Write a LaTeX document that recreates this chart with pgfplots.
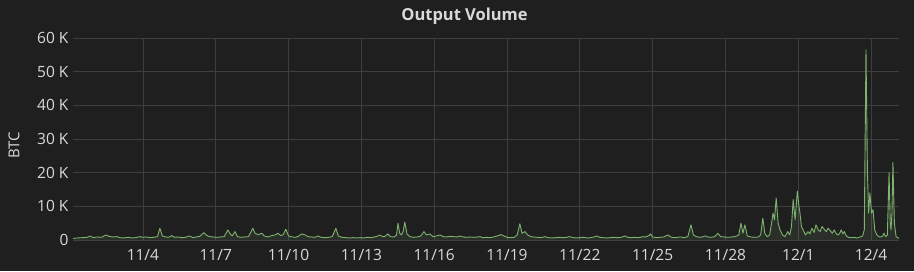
\documentclass[border=0pt]{standalone}
\usepackage{pgfplots}
\pgfplotsset{compat=1.18}
\usepackage{pgfplotstable}
\usepackage{fontspec}
\setmainfont{Open Sans}
\definecolor{bgcol}{HTML}{1F1F20}
\definecolor{gridcol}{HTML}{3E3E40}
\definecolor{txtcol}{HTML}{D8D9DA}
\definecolor{linecol}{HTML}{7EB26D}
\pgfplotstableread{
d v
0.12 0.5
0.3 0.6
0.5 0.7
0.7 0.8
0.82 1.2
0.95 0.7
1.1 0.9
1.3 0.8
1.47 1.5
1.6 1.1
1.75 0.9
1.93 1.0
2.05 0.7
2.2 0.6
2.4 0.8
2.55 0.6
2.7 0.7
2.88 1.0
3.0 0.8
3.15 0.9
3.3 0.7
3.45 0.8
3.6 1.0
3.70 3.5
3.8 1.2
3.95 0.9
4.05 0.8
4.19 1.3
4.3 0.8
4.45 0.9
4.6 0.7
4.75 0.8
4.93 1.2
5.05 0.7
5.2 0.9
5.35 1.1
5.51 2.2
5.62 1.4
5.75 1.0
5.9 0.9
6.05 0.8
6.2 0.9
6.35 1.0
6.50 3.0
6.6 1.8
6.68 1.2
6.79 2.5
6.9 1.0
7.05 0.8
7.2 0.9
7.35 1.0
7.53 3.5
7.62 2.0
7.75 1.6
7.90 2.0
8.0 1.2
8.15 0.9
8.3 1.3
8.45 1.5
8.56 2.0
8.68 1.3
8.78 1.6
8.89 3.2
9.0 1.2
9.15 0.9
9.3 0.8
9.42 1.2
9.55 1.8
9.68 1.5
9.8 1.0
9.95 0.9
10.1 0.8
10.21 1.2
10.35 0.8
10.5 0.7
10.65 0.8
10.8 1.0
10.95 3.5
11.05 1.2
11.2 0.8
11.35 0.7
11.5 0.6
11.65 0.7
11.8 0.6
11.95 0.7
12.1 0.6
12.25 0.8
12.4 0.7
12.55 0.9
12.68 1.2
12.76 1.5
12.88 1.0
12.98 1.1
13.09 1.8
13.2 1.0
13.35 0.9
13.45 1.5
13.51 5.0
13.58 2.0
13.65 1.5
13.72 2.5
13.79 5.3
13.88 1.8
14.0 1.0
14.15 0.8
14.3 0.9
14.45 1.2
14.58 2.5
14.68 1.5
14.82 1.8
14.95 1.0
15.1 1.2
15.24 1.5
15.38 1.0
15.5 0.9
15.65 1.1
15.8 1.0
15.95 0.9
16.06 1.2
16.2 0.9
16.35 0.8
16.5 0.9
16.65 0.8
16.78 0.9
16.89 1.0
17.0 0.7
17.15 0.8
17.3 0.7
17.45 0.9
17.6 1.2
17.75 1.6
17.88 1.2
18.0 0.8
18.15 0.7
18.3 0.8
18.42 1.5
18.53 4.8
18.62 2.0
18.74 2.5
18.85 1.5
18.98 1.0
19.1 0.9
19.25 0.8
19.4 0.7
19.56 1.0
19.7 0.7
19.85 0.6
20.0 0.7
20.15 0.8
20.3 0.7
20.45 0.8
20.59 1.0
20.72 0.7
20.85 0.6
21.0 0.7
21.15 0.8
21.3 0.6
21.45 0.7
21.58 0.9
21.70 1.2
21.82 0.8
21.95 0.7
22.1 0.6
22.25 0.7
22.4 0.8
22.55 0.7
22.7 0.8
22.86 1.2
22.98 0.8
23.1 0.7
23.25 0.8
23.4 0.7
23.5 0.8
23.60 1.0
23.7 0.9
23.85 1.3
23.92 1.8
24.0 0.9
24.15 0.7
24.3 0.8
24.45 0.9
24.63 1.5
24.75 0.9
24.88 0.7
25.0 0.8
25.15 0.9
25.3 0.7
25.45 1.0
25.58 4.5
25.68 1.5
25.8 1.0
25.95 0.8
26.05 0.9
26.15 1.2
26.28 0.9
26.4 0.8
26.55 1.0
26.69 2.0
26.8 1.0
26.95 0.9
27.1 0.8
27.25 0.9
27.4 1.0
27.55 1.5
27.64 5.0
27.72 2.0
27.80 4.5
27.9 1.2
28.05 0.9
28.2 0.8
28.35 0.9
28.45 1.5
28.54 6.5
28.62 2.0
28.72 1.0
28.82 1.5
28.9 5.0
28.96 8.0
29.02 6.0
29.09 12.5
29.17 5.0
29.25 3.0
29.35 1.5
29.45 1.0
29.57 2.5
29.65 1.5
29.72 4.0
29.79 12.0
29.87 6.0
29.96 14.5
30.03 10.0
30.07 8.0
30.13 4.0
30.2 3.0
30.3 1.5
30.4 2.5
30.48 1.8
30.56 3.5
30.65 2.2
30.73 4.5
30.82 3.0
30.9 2.5
30.98 4.0
31.07 3.2
31.15 2.5
31.23 3.5
31.32 2.8
31.4 2.0
31.48 3.0
31.57 1.8
31.65 1.5
31.72 2.2
31.77 3.0
31.84 1.8
31.9 2.5
31.98 1.2
32.08 0.8
32.2 0.7
32.3 0.8
32.42 0.6
32.55 0.9
32.65 1.2
32.72 3.0
32.79 56.5
32.85 20.0
32.9 8.0
32.95 14.0
33.02 8.0
33.08 9.0
33.15 3.0
33.24 1.5
33.32 1.0
33.4 0.9
33.48 1.2
33.53 2.0
33.6 1.0
33.67 1.5
33.74 20.0
33.79 5.0
33.82 3.0
33.86 8.0
33.90 23.0
33.96 5.0
34.03 1.0
34.15 0.5
}\datatable
\begin{document}
\begin{tikzpicture}
\fill[bgcol] (-73pt,-31pt) rectangle (841pt,240pt);
\useasboundingbox (-73pt,-31pt) rectangle (841pt,240pt);
\begin{axis}[
  at={(0,0)}, anchor=south west,
  scale only axis, width=826pt, height=202pt,
  xmin=0.12, xmax=34.15, ymin=0, ymax=60,
  axis line style={draw=none},
  major tick length=0pt,
  grid=major,
  grid style={gridcol, line width=0.8pt},
  xtick={3,6,9,12,15,18,21,24,27,30,33},
  xticklabels={11/4,11/7,11/10,11/13,11/16,11/19,11/22,11/25,11/28,12/1,12/4},
  ytick={0,10,20,30,40,50,60},
  yticklabels={0,10 K,20 K,30 K,40 K,50 K,60 K},
  tick label style={font=\fontsize{15.5}{18}\selectfont, text=txtcol},
  xticklabel style={yshift=-6pt},
  yticklabel style={xshift=-1pt},
  ylabel={BTC},
  ylabel style={font=\fontsize{15}{18}\selectfont, text=txtcol, at={(axis description cs:-0.0714,0.47)}, anchor=center},
  title={Output Volume},
  title style={font=\fontsize{16.5}{19}\selectfont\bfseries, text=txtcol, at={(axis description cs:0.474,1)}, anchor=center, yshift=16pt},
  clip=false,
]
\addplot[draw=none, fill=linecol, fill opacity=0.12] table[x=d,y=v] {\datatable} \closedcycle;
\addplot[linecol, line width=0.9pt, line join=round] table[x=d,y=v] {\datatable};
\end{axis}
\end{tikzpicture}
\end{document}
